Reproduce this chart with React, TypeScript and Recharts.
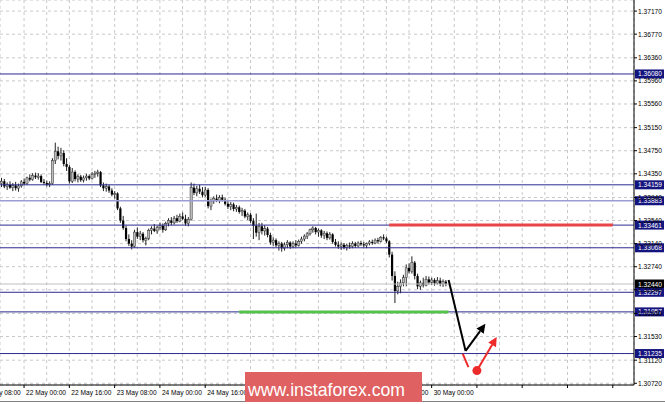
import React from 'react';
import { ComposedChart, Bar, XAxis, YAxis, CartesianGrid, ReferenceLine, ReferenceDot } from 'recharts';

// H1 candles, 21 May - 30 May
const opens = [
  1.3418, 1.3422, 1.3413, 1.3416, 1.3411, 1.3415, 1.3410, 1.3414, 1.3421, 1.3418, 1.3428, 1.3425, 1.3432, 1.3429, 1.3431, 1.3421,
  1.3419, 1.3416, 1.3418, 1.3458, 1.3474, 1.3466, 1.3471, 1.3452, 1.3447, 1.3422, 1.3438, 1.3426, 1.3430, 1.3424, 1.3428, 1.3431,
  1.3427, 1.3434, 1.3436, 1.3438, 1.3415, 1.3410, 1.3413, 1.3406, 1.3399, 1.3401, 1.3375, 1.3354, 1.3341, 1.3322, 1.3314, 1.3309,
  1.3334, 1.3326, 1.3331, 1.3320, 1.3323, 1.3337, 1.3340, 1.3336, 1.3342, 1.3345, 1.3338, 1.3349, 1.3354, 1.3350, 1.3358, 1.3353,
  1.3361, 1.3357, 1.3349, 1.3356, 1.3411, 1.3402, 1.3409, 1.3404, 1.3398, 1.3407, 1.3379, 1.3388, 1.3392, 1.3389, 1.3394, 1.3390,
  1.3383, 1.3378, 1.3382, 1.3374, 1.3377, 1.3369, 1.3371, 1.3361, 1.3364, 1.3353, 1.3345, 1.3333, 1.3344, 1.3336, 1.3340, 1.3329,
  1.3316, 1.3320, 1.3311, 1.3314, 1.3306, 1.3312, 1.3316, 1.3309, 1.3314, 1.3311, 1.3318, 1.3322, 1.3327, 1.3331, 1.3338, 1.3341,
  1.3334, 1.3337, 1.3328, 1.3332, 1.3324, 1.3330, 1.3317, 1.3312, 1.3309, 1.3312, 1.3307, 1.3311, 1.3309, 1.3314, 1.3310, 1.3315,
  1.3313, 1.3311, 1.3314, 1.3317, 1.3315, 1.3320, 1.3318, 1.3325, 1.3323, 1.3318, 1.3295, 1.3258, 1.3232, 1.3240, 1.3246, 1.3255,
  1.3272, 1.3266, 1.3281, 1.3258, 1.3240, 1.3246, 1.3242, 1.3252, 1.3247, 1.3251, 1.3245, 1.3250, 1.3244, 1.3248,
];
const highs = [
  1.3428, 1.3426, 1.3420, 1.3422, 1.3419, 1.3421, 1.3418, 1.3424, 1.3427, 1.3430, 1.3434, 1.3436, 1.3437, 1.3436, 1.3434, 1.3426,
  1.3423, 1.3422, 1.3462, 1.3489, 1.3482, 1.3480, 1.3476, 1.3462, 1.3450, 1.3445, 1.3441, 1.3434, 1.3433, 1.3432, 1.3435, 1.3434,
  1.3438, 1.3440, 1.3442, 1.3440, 1.3420, 1.3418, 1.3416, 1.3410, 1.3405, 1.3403, 1.3378, 1.3362, 1.3345, 1.3330, 1.3320, 1.3338,
  1.3342, 1.3336, 1.3334, 1.3326, 1.3340, 1.3344, 1.3348, 1.3345, 1.3350, 1.3349, 1.3352, 1.3358, 1.3360, 1.3362, 1.3364, 1.3366,
  1.3368, 1.3364, 1.3360, 1.3420, 1.3418, 1.3414, 1.3416, 1.3412, 1.3412, 1.3410, 1.3392, 1.3396, 1.3399, 1.3398, 1.3399, 1.3394,
  1.3388, 1.3386, 1.3385, 1.3381, 1.3380, 1.3376, 1.3374, 1.3368, 1.3367, 1.3358, 1.3366, 1.3350, 1.3350, 1.3346, 1.3343, 1.3333,
  1.3325, 1.3323, 1.3318, 1.3317, 1.3316, 1.3320, 1.3318, 1.3318, 1.3320, 1.3321, 1.3326, 1.3330, 1.3334, 1.3340, 1.3344, 1.3343,
  1.3340, 1.3339, 1.3336, 1.3335, 1.3334, 1.3332, 1.3322, 1.3318, 1.3316, 1.3315, 1.3314, 1.3316, 1.3318, 1.3317, 1.3318, 1.3319,
  1.3317, 1.3316, 1.3320, 1.3321, 1.3323, 1.3324, 1.3327, 1.3330, 1.3326, 1.3320, 1.3300, 1.3266, 1.3248, 1.3252, 1.3260, 1.3278,
  1.3280, 1.3292, 1.3284, 1.3262, 1.3250, 1.3255, 1.3258, 1.3257, 1.3255, 1.3254, 1.3256, 1.3255, 1.3252, 1.3251,
];
const lows = [
  1.3412, 1.3410, 1.3407, 1.3409, 1.3405, 1.3406, 1.3404, 1.3411, 1.3415, 1.3416, 1.3422, 1.3423, 1.3426, 1.3425, 1.3419, 1.3416,
  1.3413, 1.3412, 1.3416, 1.3452, 1.3460, 1.3458, 1.3448, 1.3440, 1.3418, 1.3419, 1.3422, 1.3420, 1.3421, 1.3420, 1.3423, 1.3424,
  1.3425, 1.3428, 1.3430, 1.3412, 1.3405, 1.3404, 1.3402, 1.3396, 1.3392, 1.3372, 1.3350, 1.3338, 1.3318, 1.3310, 1.3304, 1.3307,
  1.3322, 1.3320, 1.3316, 1.3311, 1.3320, 1.3330, 1.3334, 1.3331, 1.3338, 1.3333, 1.3336, 1.3344, 1.3346, 1.3347, 1.3350, 1.3351,
  1.3355, 1.3345, 1.3344, 1.3354, 1.3398, 1.3396, 1.3400, 1.3394, 1.3395, 1.3375, 1.3372, 1.3383, 1.3386, 1.3384, 1.3387, 1.3380,
  1.3374, 1.3372, 1.3370, 1.3369, 1.3366, 1.3362, 1.3358, 1.3355, 1.3350, 1.3322, 1.3326, 1.3320, 1.3330, 1.3328, 1.3325, 1.3312,
  1.3310, 1.3308, 1.3302, 1.3300, 1.3302, 1.3306, 1.3305, 1.3306, 1.3308, 1.3309, 1.3314, 1.3318, 1.3322, 1.3328, 1.3333, 1.3330,
  1.3326, 1.3324, 1.3322, 1.3320, 1.3321, 1.3314, 1.3309, 1.3305, 1.3303, 1.3304, 1.3302, 1.3305, 1.3306, 1.3307, 1.3308, 1.3310,
  1.3308, 1.3306, 1.3311, 1.3312, 1.3313, 1.3314, 1.3316, 1.3320, 1.3315, 1.3290, 1.3250, 1.3211, 1.3226, 1.3228, 1.3240, 1.3240,
  1.3262, 1.3262, 1.3252, 1.3235, 1.3234, 1.3238, 1.3240, 1.3243, 1.3242, 1.3241, 1.3243, 1.3240, 1.3239, 1.3240,
];
const closes = [
  1.3422, 1.3413, 1.3416, 1.3411, 1.3415, 1.3410, 1.3414, 1.3421, 1.3418, 1.3428, 1.3425, 1.3432, 1.3429, 1.3431, 1.3421, 1.3419,
  1.3416, 1.3418, 1.3458, 1.3474, 1.3466, 1.3471, 1.3452, 1.3447, 1.3422, 1.3438, 1.3426, 1.3430, 1.3424, 1.3428, 1.3431, 1.3427,
  1.3434, 1.3436, 1.3438, 1.3415, 1.3410, 1.3413, 1.3406, 1.3399, 1.3401, 1.3375, 1.3354, 1.3341, 1.3322, 1.3314, 1.3309, 1.3334,
  1.3326, 1.3331, 1.3320, 1.3323, 1.3337, 1.3340, 1.3336, 1.3342, 1.3345, 1.3338, 1.3349, 1.3354, 1.3350, 1.3358, 1.3353, 1.3361,
  1.3357, 1.3349, 1.3356, 1.3411, 1.3402, 1.3409, 1.3404, 1.3398, 1.3407, 1.3379, 1.3388, 1.3392, 1.3389, 1.3394, 1.3390, 1.3383,
  1.3378, 1.3382, 1.3374, 1.3377, 1.3369, 1.3371, 1.3361, 1.3364, 1.3353, 1.3345, 1.3333, 1.3344, 1.3336, 1.3340, 1.3329, 1.3316,
  1.3320, 1.3311, 1.3314, 1.3306, 1.3312, 1.3316, 1.3309, 1.3314, 1.3311, 1.3318, 1.3322, 1.3327, 1.3331, 1.3338, 1.3341, 1.3334,
  1.3337, 1.3328, 1.3332, 1.3324, 1.3330, 1.3317, 1.3312, 1.3309, 1.3312, 1.3307, 1.3311, 1.3309, 1.3314, 1.3310, 1.3315, 1.3313,
  1.3311, 1.3314, 1.3317, 1.3315, 1.3320, 1.3318, 1.3325, 1.3323, 1.3318, 1.3295, 1.3258, 1.3232, 1.3240, 1.3246, 1.3255, 1.3272,
  1.3266, 1.3281, 1.3258, 1.3240, 1.3246, 1.3242, 1.3252, 1.3247, 1.3251, 1.3245, 1.3250, 1.3244, 1.3248, 1.3244,
];

// price scale ticks (right side)
const yTicks = [
  1.3717, 1.3677, 1.3636, 1.3596, 1.3556, 1.3515, 1.3475, 1.3435, 1.3394,
  1.3354, 1.3314, 1.3274, 1.3234, 1.3193, 1.3153, 1.3112, 1.3072,
];
// time labels, one every 16 bars starting 8 bars before the first candle
const timeLabels = [
  '21 May 08:00', '22 May 00:00', '22 May 16:00', '23 May 08:00', '24 May 00:00', '24 May 16:00',
  '25 May 08:00', '28 May 00:00', '28 May 16:00', '29 May 08:00', '30 May 00:00',
];

// support / resistance levels
const navyLevels = [1.3608, 1.34159, 1.33461, 1.33068, 1.32297, 1.31957, 1.31235];
const lightLevels = [1.33883];
const currentPrice = 1.3244;

// drawn forecast: [barIndex, price]
const redTarget = [137, 216, 1.33461];
const greenSupport = [84, 158, 1.31957];
const blackPath = [[158, 1.3251], [164, 1.3128], [171, 1.3175]];
const redTick = [[163, 1.3123], [165, 1.31]];
const redDot = [168, 1.3094];
const redArrowEnd = [175, 1.3152];

const SLOTS = 224;
const BAND = 634 / SLOTS;
const FONT = 'Liberation Sans, Arial, sans-serif';

const chartData = Array.from({ length: SLOTS }, (_, i) =>
  i < closes.length
    ? { idx: i, open: opens[i], high: highs[i], low: lows[i], close: closes[i], range: [lows[i], highs[i]] }
    : { idx: i }
);
const gridTicks = Array.from({ length: 27 }, (_, k) => 8 + 8 * k);

const Candle = (props: any) => {
  const { x, y, width, height, payload } = props;
  if (!payload || payload.open == null || !isFinite(y)) return <g />;
  const { open, close, high, low } = payload;
  const k = high === low ? 0 : height / (high - low);
  const cx = x + width / 2;
  const yO = y + (high - open) * k;
  const yC = y + (high - close) * k;
  const top = Math.min(yO, yC);
  const bh = Math.max(1, Math.abs(yO - yC));
  const bull = close >= open;
  return (
    <g>
      <line x1={cx} x2={cx} y1={y} y2={y + height} stroke="#222" strokeWidth={1} />
      <rect x={cx - 1.1} y={top} width={2.2} height={bh} fill={bull ? '#bdbdbd' : '#000'} stroke={bull ? '#333' : 'none'} strokeWidth={0.5} />
    </g>
  );
};

const TimeTick = (props: any) => {
  const { x, y, payload } = props;
  const k = (payload.value + 8) / 16;
  if (!Number.isInteger(k)) return <g />;
  return (
    <g>
      {k === 1 && (
        <text x={x - 16 * BAND + 2} y={y + 10} fontSize={7} fontFamily={FONT} fill="#000" textLength={40} lengthAdjust="spacingAndGlyphs">
          {timeLabels[0]}
        </text>
      )}
      <line x1={x} x2={x} y1={y} y2={y + 3} stroke="#000" />
      <text x={x + 2} y={y + 10} fontSize={7} fontFamily={FONT} fill="#000" textLength={40} lengthAdjust="spacingAndGlyphs">
        {timeLabels[k]}
      </text>
    </g>
  );
};

const PriceTick = (props: any) => {
  const { x, y, payload } = props;
  return (
    <g>
      <line x1={x} x2={x + 3} y1={y} y2={y} stroke="#000" />
      <text x={x + 4} y={y + 2.5} fontSize={7} fontFamily={FONT} fill="#000" textLength={24} lengthAdjust="spacingAndGlyphs">
        {payload.value.toFixed(5)}
      </text>
    </g>
  );
};

const levelTag = (value: number, bg: string) => (props: any) => {
  const vb = props.viewBox || {};
  const x = vb.x + vb.width;
  const y = vb.y;
  return (
    <g>
      <rect x={x + 1} y={y - 4.5} width={29} height={9} fill={bg} />
      <text x={x + 4} y={y + 2.5} fontSize={7} fontFamily={FONT} fill="#fff" textLength={24} lengthAdjust="spacingAndGlyphs">
        {value.toFixed(5)}
      </text>
    </g>
  );
};

const ArrowLine = (props: any) => {
  const { x1, y1, x2, y2, stroke } = props;
  if (![x1, y1, x2, y2].every((v) => isFinite(v))) return <g />;
  const dx = x2 - x1;
  const dy = y2 - y1;
  const len = Math.hypot(dx, dy) || 1;
  const ux = dx / len;
  const uy = dy / len;
  const bx = x2 - ux * 9;
  const by = y2 - uy * 9;
  const pts = `${x2},${y2} ${bx - uy * 4.5},${by + ux * 4.5} ${bx + uy * 4.5},${by - ux * 4.5}`;
  return (
    <g>
      <line x1={x1} y1={y1} x2={bx} y2={by} stroke={stroke} strokeWidth={2} />
      <polygon points={pts} fill={stroke} />
    </g>
  );
};

export default function App() {
  return (
    <div style={{ position: 'absolute', left: 0, top: 0, width: 665, height: 404, background: '#fff' }}>
      <ComposedChart width={665} height={404} data={chartData} margin={{ top: 0, right: 0, bottom: 0, left: 0 }} barCategoryGap={0}>
        <CartesianGrid strokeDasharray="3 3" stroke="#c8c8c8" />
        <XAxis
          dataKey="idx"
          type="category"
          ticks={gridTicks}
          interval={0}
          height={19}
          tickSize={0}
          tickMargin={0}
          tickLine={false}
          axisLine={{ stroke: '#000' }}
          tick={(p: any) => <TimeTick {...p} />}
        />
        <YAxis
          orientation="right"
          type="number"
          domain={[1.3069, 1.37362]}
          allowDataOverflow
          ticks={yTicks}
          interval={0}
          width={31}
          tickSize={0}
          tickMargin={0}
          tickLine={false}
          axisLine={{ stroke: '#000' }}
          tick={(p: any) => <PriceTick {...p} />}
        />
        <ReferenceLine y={currentPrice} stroke="#c0c0c0" label={levelTag(currentPrice, '#000')} />
        {lightLevels.map((lv) => (
          <ReferenceLine key={lv} y={lv} stroke="#9c9cd4" strokeWidth={1.5} label={levelTag(lv, '#14147e')} />
        ))}
        {navyLevels.map((lv) => (
          <ReferenceLine key={lv} y={lv} stroke="#2a2a90" label={levelTag(lv, '#14147e')} />
        ))}
        <Bar dataKey="range" shape={(p: any) => <Candle {...p} />} isAnimationActive={false} />
        <ReferenceLine
          segment={[{ x: redTarget[0], y: redTarget[2] }, { x: redTarget[1], y: redTarget[2] }]}
          stroke="#e84646"
          strokeWidth={3}
        />
        <ReferenceLine
          segment={[{ x: greenSupport[0], y: greenSupport[2] }, { x: greenSupport[1], y: greenSupport[2] }]}
          stroke="#55c24e"
          strokeWidth={3}
        />
        <ReferenceLine
          segment={[{ x: blackPath[0][0], y: blackPath[0][1] }, { x: blackPath[1][0], y: blackPath[1][1] }]}
          stroke="#000"
          strokeWidth={2}
        />
        <ReferenceLine
          segment={[{ x: blackPath[1][0], y: blackPath[1][1] }, { x: blackPath[2][0], y: blackPath[2][1] }]}
          stroke="#000"
          shape={(p: any) => <ArrowLine {...p} stroke="#000" />}
        />
        <ReferenceLine
          segment={[{ x: redTick[0][0], y: redTick[0][1] }, { x: redTick[1][0], y: redTick[1][1] }]}
          stroke="#ee2b2b"
          strokeWidth={2}
        />
        <ReferenceLine
          segment={[{ x: redDot[0], y: redDot[1] }, { x: redArrowEnd[0], y: redArrowEnd[1] }]}
          stroke="#ee2b2b"
          shape={(p: any) => <ArrowLine {...p} stroke="#ee2b2b" />}
        />
        <ReferenceDot x={redDot[0]} y={redDot[1]} r={4.5} fill="#ee2b2b" stroke="none" />
      </ComposedChart>
      <svg width={665} height={404} style={{ position: 'absolute', left: 0, top: 0, pointerEvents: 'none' }}>
        <line x1={0} x2={665} y1={401.5} y2={401.5} stroke="#808080" />
        <rect x={245} y={372} width={177} height={30} fill="#e06161" />
        <text x={248} y={396} fontSize={19} fontFamily={FONT} fill="#fff" textLength={157} lengthAdjust="spacingAndGlyphs">
          www.instaforex.com
        </text>
      </svg>
    </div>
  );
}
